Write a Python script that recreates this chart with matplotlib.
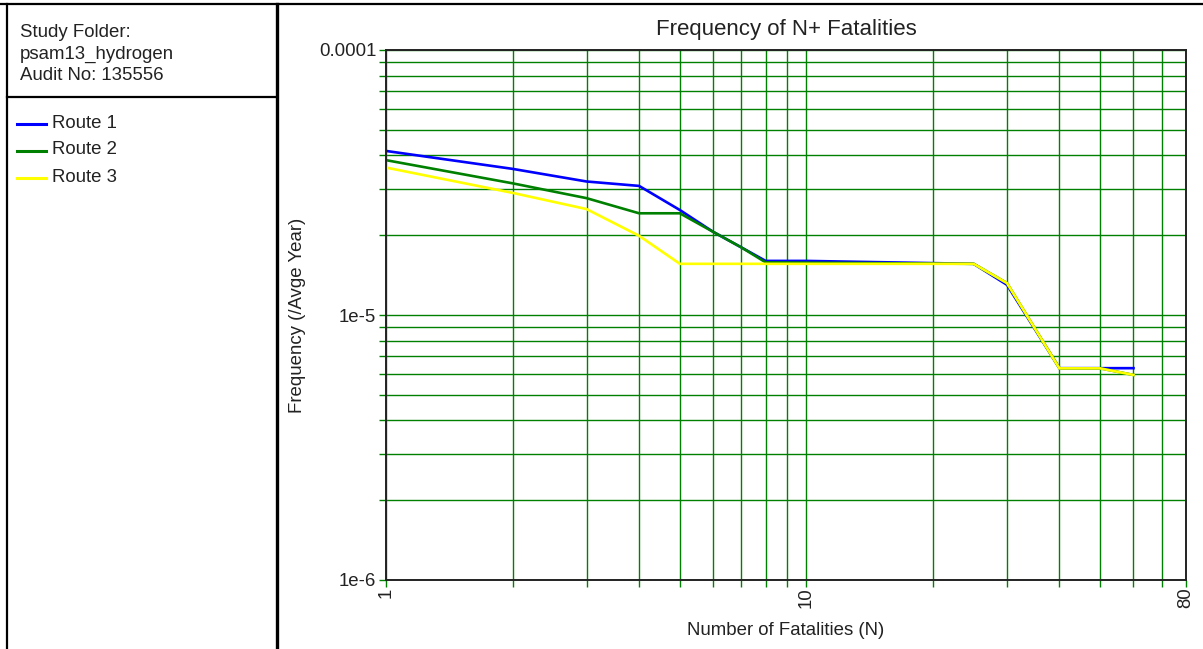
import matplotlib
matplotlib.use("Agg")
import matplotlib.pyplot as plt
from matplotlib.lines import Line2D

plt.rcParams['font.family'] = ['Liberation Sans', 'DejaVu Sans']

# ---- data ----
route1_n = [1, 2, 3, 4, 5, 6, 7, 8, 10, 25, 30, 40, 50, 60]
route1_f = [4.16e-5, 3.56e-5, 3.19e-5, 3.07e-5, 2.49e-5, 2.06e-5, 1.80e-5, 1.60e-5,
            1.60e-5, 1.56e-5, 1.30e-5, 6.3e-6, 6.3e-6, 6.3e-6]

route2_n = [1, 2, 3, 4, 5, 6, 7, 8, 25, 30, 40, 50, 60]
route2_f = [3.84e-5, 3.14e-5, 2.76e-5, 2.42e-5, 2.42e-5, 2.06e-5, 1.80e-5, 1.58e-5,
            1.56e-5, 1.32e-5, 6.29e-6, 6.29e-6, 5.94e-6]

route3_n = [1, 2, 3, 4, 5, 25, 30, 40, 50, 60]
route3_f = [3.60e-5, 2.89e-5, 2.51e-5, 1.99e-5, 1.56e-5, 1.56e-5, 1.32e-5, 6.29e-6,
            6.29e-6, 5.94e-6]

route_names = ["Route 1", "Route 2", "Route 3"]
route_colors = ["#0000ff", "#008000", "#ffff00"]

x_ticks = [1, 2, 3, 4, 5, 6, 7, 8, 9, 10, 20, 30, 40, 50, 60, 70, 80]
x_labels = {1: "1", 10: "10", 80: "80"}
y_ticks = [1e-6, 2e-6, 3e-6, 4e-6, 5e-6, 6e-6, 7e-6, 8e-6, 9e-6,
           1e-5, 2e-5, 3e-5, 4e-5, 5e-5, 6e-5, 7e-5, 8e-5, 9e-5, 1e-4]
y_labels = {1e-6: "1e-6", 1e-5: "1e-5", 1e-4: "0.0001"}

info_lines = ["Study Folder:", "psam13_hydrogen", "Audit No: 135556"]

# ---- figure ----
W, H = 1203, 649
fig = plt.figure(figsize=(W / 100, H / 100), dpi=100)

def fx(px):
    return px / W

def fy(py):
    return 1 - py / H

ax = fig.add_axes([fx(386), fy(580), fx(1186) - fx(386), fy(50) - fy(580)])
ax.set_xscale('log')
ax.set_yscale('log')
ax.set_xlim(1, 80)
ax.set_ylim(1e-6, 1e-4)

grid_col = '#008000'
for xv in x_ticks:
    ax.axvline(xv, color=grid_col, lw=1.0, zorder=1)
for yv in y_ticks:
    ax.axhline(yv, color=grid_col, lw=1.0, zorder=1)

ax.minorticks_off()
ax.set_xticks(x_ticks)
ax.set_xticklabels([x_labels.get(v, "") for v in x_ticks], rotation=90,
                   fontsize=13.4, color='#222222')
ax.set_yticks(y_ticks)
ax.set_yticklabels([y_labels.get(v, "") for v in y_ticks], fontsize=13.4, color='#222222')
ax.tick_params(axis='both', which='both', direction='out', length=5, width=1.0,
               color=grid_col, pad=2)
ax.tick_params(axis='x', pad=0.5)

for ns, fs, c, name in zip([route1_n, route2_n, route3_n], [route1_f, route2_f, route3_f],
                           route_colors, route_names):
    ax.plot(ns, fs, color=c, lw=1.9, zorder=3, label=name, solid_joinstyle='round')

for s in ax.spines.values():
    s.set_color('#222222')
    s.set_linewidth(1.4)
    s.set_zorder(4)

ax.set_title("Frequency of N+ Fatalities", fontsize=16, color='#222222', pad=11)
ax.set_xlabel("Number of Fatalities (N)", fontsize=13.4, color='#222222', labelpad=10)
ax.set_ylabel("Frequency (/Avge Year)", fontsize=13.4, color='#222222', labelpad=9)

# ---- left panel / borders ----
border = dict(color='black', lw=1.6, transform=fig.transFigure)
fig.add_artist(Line2D([fx(0), fx(W)], [fy(3.5), fy(3.5)], **border))
fig.add_artist(Line2D([fx(6.5), fx(6.5)], [fy(3.5), fy(H)], **border))
fig.add_artist(Line2D([fx(6.5), fx(277)], [fy(97), fy(97)], **border))
fig.add_artist(Line2D([fx(277), fx(277)], [fy(3.5), fy(H)], color='black', lw=2.4,
                      transform=fig.transFigure))

for i, t in enumerate(info_lines):
    fig.text(fx(20), fy(32.5 + 21.5 * i), t, fontsize=13.4, color='#222222',
             ha='left', va='center')

for i, (name, c) in enumerate(zip(route_names, route_colors)):
    yy = fy(124 + 27 * i)
    fig.add_artist(Line2D([fx(17), fx(46)], [yy, yy], color=c, lw=2.2,
                          transform=fig.transFigure))
    fig.text(fx(52), yy + 1 / H, name, fontsize=13.4, color='#222222',
             ha='left', va='center')

fig.savefig("out.png", dpi=100)
